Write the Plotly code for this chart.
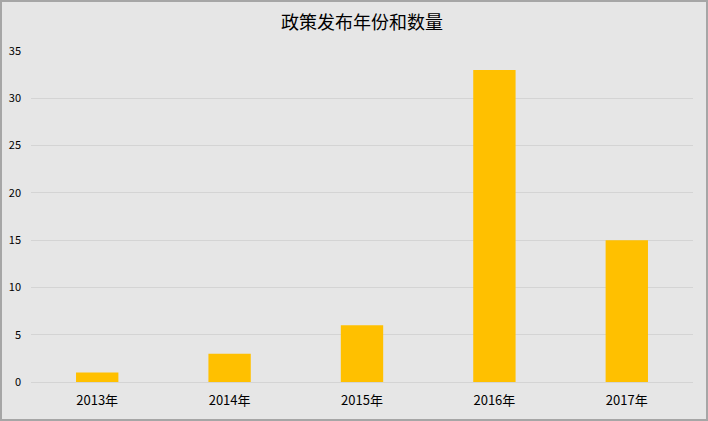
import plotly.graph_objects as go

years = ["2013年", "2014年", "2015年", "2016年", "2017年"]
counts = [1, 3, 6, 33, 15]
y_ticks = [0, 5, 10, 15, 20, 25, 30, 35]

W, H = 708, 421
L, R, T, B = 31, 15, 51, 39
pw, ph = W - L - R, H - T - B

fig = go.Figure(go.Bar(x=years, y=counts, marker_color="#FFC000", marker_line_width=0))

font = "Noto Sans CJK SC, DejaVu Sans, sans-serif"
fig.update_layout(
    width=W, height=H,
    margin=dict(l=L, r=R, t=T, b=B, autoexpand=False),
    paper_bgcolor="#e6e6e6", plot_bgcolor="#e6e6e6",
    bargap=0.68,
    title=dict(text="政策发布年份和数量", xref="paper", x=0.5, xanchor="center", y=1 - 23 / H, yanchor="middle",
               font=dict(family=font, size=18, color="#000000")),
    font=dict(family=font, color="#000000"),
    xaxis=dict(showgrid=False, tickfont=dict(size=13, color="#000"), ticks="", showline=True,
               linecolor="#d4d4d4", linewidth=1, automargin=False, ticklabelstandoff=6),
    yaxis=dict(range=[0, 35], tickvals=y_ticks, gridcolor="#d4d4d4", gridwidth=1, zeroline=False,
               tickfont=dict(size=11, color="#000"), ticks="", ticklabelstandoff=9, automargin=False),
    showlegend=False,
)
fig.add_shape(type="rect", xref="paper", yref="paper",
              x0=(1 - L) / pw, x1=(W - 1 - L) / pw,
              y0=(H - B - (H - 1)) / ph, y1=(H - B - 1) / ph,
              line=dict(color="#a6a6a6", width=2), fillcolor="rgba(0,0,0,0)", layer="above")
fig.write_html("out.html", config={"displayModeBar": False},
               post_script="document.body.style.margin='0';document.body.style.overflow='hidden';")
